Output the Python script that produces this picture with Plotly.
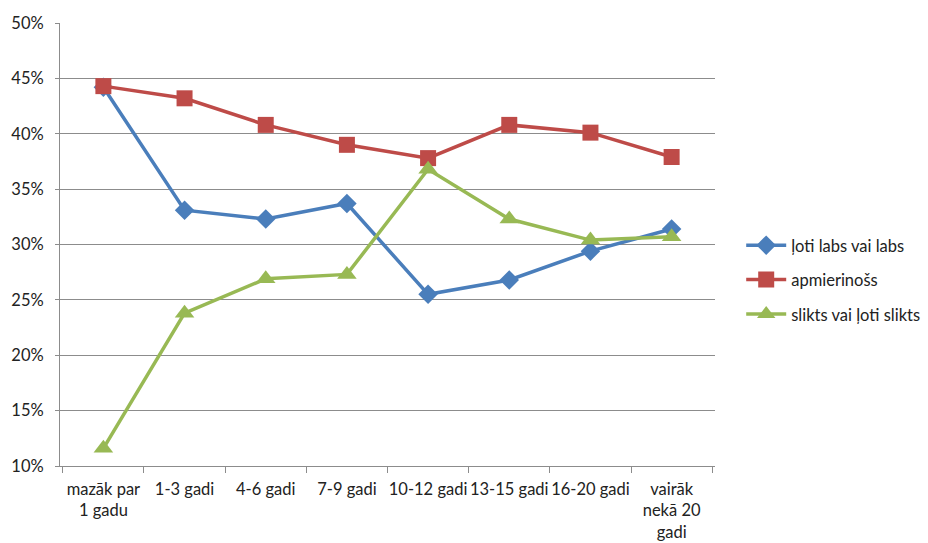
import plotly.graph_objects as go

categories = ["mazāk par<br>1 gadu", "1-3 gadi", "4-6 gadi", "7-9 gadi",
              "10-12 gadi", "13-15 gadi", "16-20 gadi", "vairāk<br>nekā 20<br>gadi"]
loti_labs = [0.442, 0.331, 0.323, 0.337, 0.255, 0.268, 0.294, 0.314]
apmierinoss = [0.443, 0.432, 0.408, 0.390, 0.378, 0.408, 0.401, 0.379]
slikts = [0.116, 0.238, 0.269, 0.273, 0.368, 0.323, 0.304, 0.307]
y_ticks = [0.10, 0.15, 0.20, 0.25, 0.30, 0.35, 0.40, 0.45, 0.50]

series = [
    ("ļoti labs vai labs", loti_labs, "#4a7ebb", "diamond", 15),
    ("apmierinošs", apmierinoss, "#be4b48", "square", 16),
    ("slikts vai ļoti slikts", slikts, "#98b954", "triangle-up", 17),
]

fig = go.Figure()
for i, (name, vals, color, symbol, size) in enumerate(series):
    fig.add_trace(go.Scatter(
        x=categories, y=vals, name=name, mode="lines+markers",
        line=dict(color=color, width=3.5),
        marker=dict(symbol=symbol, size=size, color=color),
        legendgroup=f"g{i}",
    ))

grid = "#8c8c8c"
fig.update_layout(
    width=928, height=543,
    margin=dict(l=60, r=213, t=23, b=77, autoexpand=False),
    paper_bgcolor="white", plot_bgcolor="white",
    font=dict(family="Lato, Open Sans, sans-serif", size=16.5, color="#222222"),
    showlegend=True,
    legend=dict(x=1.04, y=0.42, xanchor="left", yanchor="middle",
                traceorder="grouped", tracegroupgap=10,
                font=dict(size=16.5), itemwidth=40, bgcolor="rgba(0,0,0,0)"),
    xaxis=dict(
        type="category", showline=True, linecolor=grid, linewidth=1,
        tickson="boundaries", ticks="outside", ticklen=6, tickcolor=grid,
        showgrid=False, tickangle=0, fixedrange=True, ticklabelstandoff=8,
        automargin=False,
    ),
    yaxis=dict(
        range=[0.10, 0.50], tickvals=y_ticks, tickformat=".0%",
        showline=True, linecolor=grid, linewidth=1,
        ticks="outside", ticklen=4, tickcolor=grid, ticklabelstandoff=8,
        showgrid=True, gridcolor=grid, gridwidth=1, zeroline=False,
        automargin=False,
    ),
)

fig.write_html("out.html")
